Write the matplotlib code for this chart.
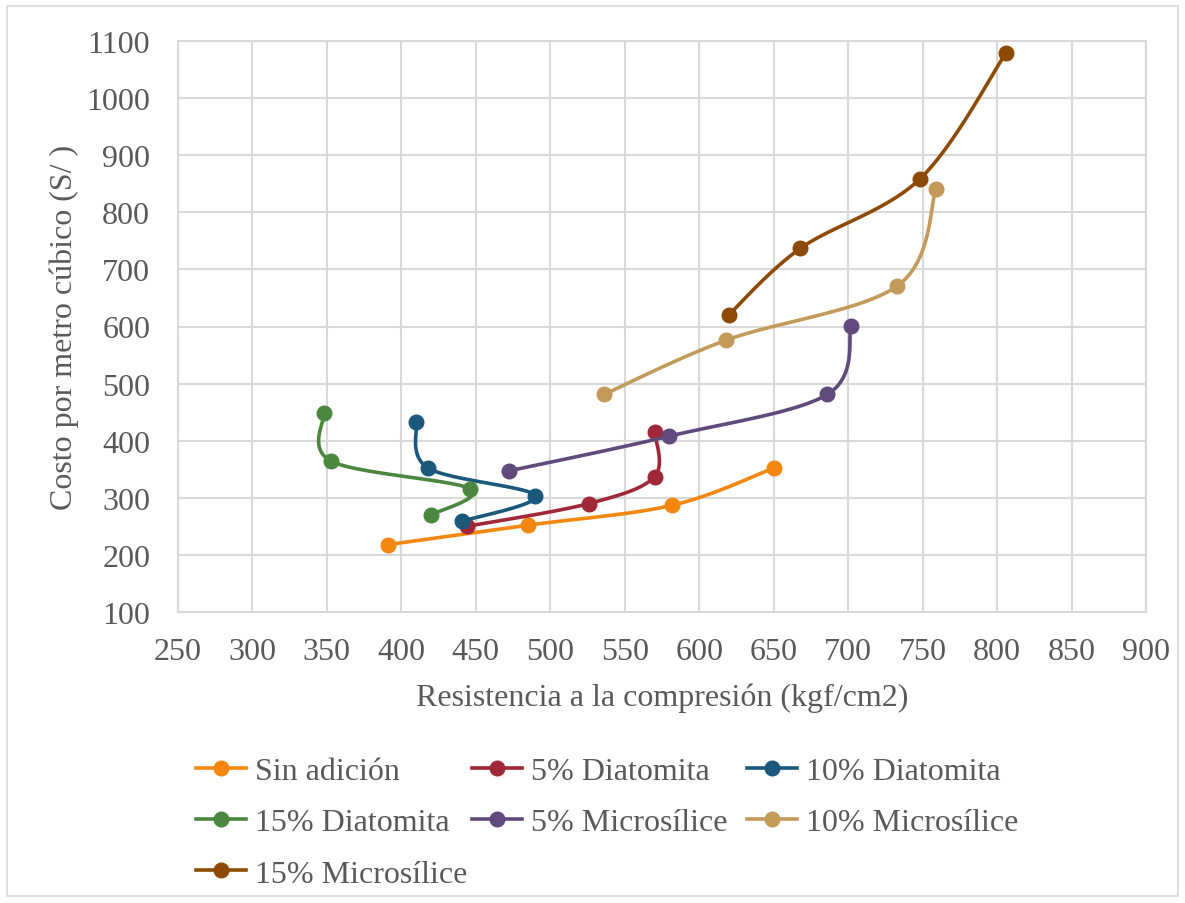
import numpy as np
import matplotlib
matplotlib.use("Agg")
import matplotlib.pyplot as plt
from matplotlib.lines import Line2D
from matplotlib.patches import Rectangle

plt.rcParams['font.family'] = ['Liberation Serif', 'DejaVu Serif']

# Compressive strength (kgf/cm2) and cost per cubic metre (S/) for each mix
series_names = ["Sin adición", "5% Diatomita", "10% Diatomita", "15% Diatomita",
                "5% Microsílice", "10% Microsílice", "15% Microsílice"]

sin_adicion_x = [391, 485, 582, 650]
sin_adicion_y = [218, 252, 287, 352]

diatomita5_x = [444, 526, 570, 570]
diatomita5_y = [250, 290, 337, 416]

diatomita10_x = [441, 490, 418, 410]
diatomita10_y = [259, 304, 352, 432]

diatomita15_x = [420, 446, 353, 348]
diatomita15_y = [270, 316, 364, 448]

microsilice5_x = [472, 580, 686, 702]
microsilice5_y = [347, 408, 481, 601]

microsilice10_x = [536, 618, 733, 759]
microsilice10_y = [481, 576, 671, 840]

microsilice15_x = [620, 668, 748, 806]
microsilice15_y = [621, 737, 858, 1079]

x_ticks = list(range(250, 901, 50))
y_ticks = list(range(100, 1101, 100))

colors = ["#F3870F", "#A02838", "#1B587C", "#4C8740",
          "#5F4A7B", "#C49A5A", "#8C4A05"]

xs_all = [sin_adicion_x, diatomita5_x, diatomita10_x, diatomita15_x,
          microsilice5_x, microsilice10_x, microsilice15_x]
ys_all = [sin_adicion_y, diatomita5_y, diatomita10_y, diatomita15_y,
          microsilice5_y, microsilice10_y, microsilice15_y]

TEXT = "#595959"
GRID = "#D9D9D9"
FS = 23

W, H = 1185, 904
fig = plt.figure(figsize=(W / 100, H / 100), dpi=100)
fig.patches.append(Rectangle((7 / W, 7 / H), (W - 14) / W, (H - 14) / H,
                             transform=fig.transFigure, fill=False,
                             edgecolor=GRID, linewidth=1.2))

left, right, top, bottom = 178, 1146, 42, 613
ax = fig.add_axes([left / W, 1 - bottom / H, (right - left) / W, (bottom - top) / H])
ax.set_xlim(x_ticks[0], x_ticks[-1])
ax.set_ylim(y_ticks[0], y_ticks[-1])
ax.set_xticks(x_ticks)
ax.set_yticks(y_ticks)
ax.grid(True, color=GRID, linewidth=1.5)
ax.set_axisbelow(True)
for s in ax.spines.values():
    s.set_color(GRID)
    s.set_linewidth(1.5)
ax.tick_params(length=0, labelsize=FS, labelcolor=TEXT)
ax.tick_params(axis='y', pad=20)
ax.tick_params(axis='x', pad=18)
ax.set_xlabel("Resistencia a la compresión (kgf/cm2)", fontsize=FS, color=TEXT, labelpad=12)
ax.set_ylabel("Costo por metro cúbico (S/ )", fontsize=FS, color=TEXT, labelpad=5)


def smooth_curve(xs, ys, n=40):
    """Bezier smoothing through the points, computed in display space."""
    pts = ax.transData.transform(np.column_stack([xs, ys]))
    out = []
    m = len(pts)
    t = np.linspace(0, 1, n)[:, None]
    for i in range(m - 1):
        p0 = pts[i - 1] if i > 0 else pts[i]
        p1, p2 = pts[i], pts[i + 1]
        p3 = pts[i + 2] if i + 2 < m else pts[i + 1]
        c1 = p1 + (p2 - p0) / 6.0
        c2 = p2 - (p3 - p1) / 6.0
        seg = ((1 - t) ** 3) * p1 + 3 * ((1 - t) ** 2) * t * c1 \
            + 3 * (1 - t) * t ** 2 * c2 + t ** 3 * p2
        out.append(seg if i == 0 else seg[1:])
    curve = np.vstack(out)
    return ax.transData.inverted().transform(curve).T


handles = []
for k, (name, xs, ys, c) in enumerate(zip(series_names, xs_all, ys_all, colors)):
    cx, cy = smooth_curve(xs, ys)
    ax.plot(cx, cy, color=c, linewidth=2.6, solid_capstyle='round', zorder=3 + k)
    ax.plot(xs, ys, linestyle='none', marker='o', markersize=10.5,
            color=c, zorder=3 + k)
    handles.append(Line2D([], [], color=c, linewidth=2.6, marker='o',
                          markersize=10.5, label=name))

# legend laid out in three equal-width columns, filled row by row
columns = [[0, 3, 6], [1, 4], [2, 5]]
col_x = [196, 472, 747]
for idx, cx0 in zip(columns, col_x):
    lg = fig.legend([handles[i] for i in idx], [series_names[i] for i in idx],
                    ncol=1, loc='upper left', bbox_to_anchor=(cx0 / W, 1 - 758 / H),
                    frameon=False, fontsize=FS, handlelength=1.55, handletextpad=0.3,
                    labelspacing=0.68, borderaxespad=0, borderpad=0,
                    labelcolor=TEXT)

fig.savefig("out.png", dpi=100)
